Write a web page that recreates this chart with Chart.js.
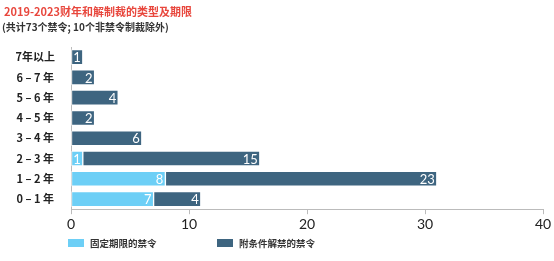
<!DOCTYPE html>
<html>
<head>
<meta charset="utf-8">
<script src="https://cdn.jsdelivr.net/npm/chart.js@4.4.1/dist/chart.umd.min.js"></script>
<style>
  body { margin: 0; background: #fff; }
  #wrap { position: relative; width: 554px; height: 261px; }
  #title { position: absolute; left: 4px; top: 3px; font: bold 11px "Noto Sans CJK SC", sans-serif; color: #e8473d; white-space: nowrap; }
  #sub { position: absolute; left: 2px; top: 19px; font: bold 10px "Noto Sans CJK SC", sans-serif; color: #333; white-space: nowrap; }
  canvas { position: absolute; left: 0; top: 0; }
</style>
</head>
<body>
<div id="wrap">
  <canvas id="c" width="554" height="261"></canvas>
  <div id="title">2019-2023财年和解制裁的类型及期限</div>
  <div id="sub">(共计73个禁令; 10个非禁令制裁除外)</div>
</div>
<script>
const categories = ['7年以上', '6 – 7 年', '5 – 6 年', '4 – 5 年', '3 – 4 年', '2 – 3 年', '1 – 2 年', '0 – 1 年'];
const fixedTerm = [0, 0, 0, 0, 0, 1, 8, 7];
const conditional = [1, 2, 4, 2, 6, 15, 23, 4];
const xTicks = [0, 10, 20, 30, 40];
const seriesNames = ['固定期限的禁令', '附条件解禁的禁令'];

const lightBlue = '#6dcff6';
const darkBlue = '#3e6580';
const cjk = '"Noto Sans CJK SC", sans-serif';

// white value labels at the end of each segment
const barLabels = {
  id: 'barLabels',
  afterDatasetsDraw(chart) {
    const ctx = chart.ctx;
    ctx.save();
    ctx.fillStyle = '#fff';
    ctx.font = '13px Lato, "Open Sans", sans-serif';
    ctx.textAlign = 'right';
    ctx.textBaseline = 'middle';
    chart.data.datasets.forEach((ds, i) => {
      chart.getDatasetMeta(i).data.forEach((bar, j) => {
        const v = ds.data[j];
        if (!v) return;
        ctx.fillText(String(v), bar.x - 2, bar.y + 1);
      });
    });
    ctx.restore();
  }
};

// legend drawn below the axis
const bottomLegend = {
  id: 'bottomLegend',
  afterDraw(chart) {
    const ctx = chart.ctx;
    const xs = [68, 217];
    ctx.save();
    ctx.font = 'bold 9.5px ' + cjk;
    ctx.textBaseline = 'middle';
    chart.data.datasets.forEach((ds, i) => {
      ctx.fillStyle = ds.backgroundColor;
      ctx.fillRect(xs[i], 239, 16, 8);
      ctx.fillStyle = '#333';
      ctx.fillText(ds.label, xs[i] + 22, 243.5);
    });
    ctx.restore();
  }
};

new Chart(document.getElementById('c'), {
  type: 'bar',
  data: {
    labels: categories,
    datasets: [
      { label: seriesNames[0], data: fixedTerm, backgroundColor: lightBlue, borderColor: 'rgba(255,255,255,0.7)', borderWidth: 1, borderSkipped: false, barThickness: 15 },
      { label: seriesNames[1], data: conditional, backgroundColor: darkBlue, borderColor: 'rgba(255,255,255,0.7)', borderWidth: 1, borderSkipped: false, barThickness: 15 }
    ]
  },
  options: {
    indexAxis: 'y',
    responsive: false,
    animation: false,
    layout: { padding: { top: 47, left: 6, right: 11, bottom: 26 } },
    plugins: {
      legend: { display: false },
      tooltip: { enabled: false }
    },
    scales: {
      x: {
        stacked: true,
        min: 0,
        max: 40,
        afterBuildTicks(axis) { axis.ticks = xTicks.map(v => ({ value: v })); },
        border: { display: true, color: '#bbb', width: 1 },
        grid: { display: true, drawOnChartArea: false, drawTicks: true, tickLength: 5, color: '#bbb' },
        ticks: { color: '#222', padding: 2, font: { family: 'Lato, "Open Sans", sans-serif', size: 14 } }
      },
      y: {
        stacked: true,
        afterFit(axis) { axis.width = 65; },
        border: { display: true, color: '#bbb', width: 1 },
        grid: { display: false },
        ticks: { color: '#222', crossAlign: 'center', padding: 8, font: { family: cjk, size: 11, weight: 'bold' } }
      }
    }
  },
  plugins: [barLabels, bottomLegend]
});
</script>
</body>
</html>
